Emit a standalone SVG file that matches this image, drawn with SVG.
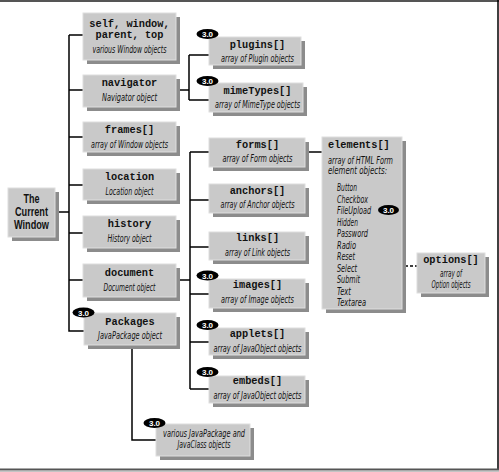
<svg xmlns="http://www.w3.org/2000/svg" width="499" height="472" viewBox="0 0 499 472">
<defs>
<style>
.sh{fill:#8c8c8c}
.bx{fill:#c9c9c9;stroke:#dedede;stroke-width:1}
.m{font-family:"Liberation Mono","Courier New",monospace;font-weight:bold;font-size:10.3px;fill:#111;text-anchor:middle}
.d{font-family:"Liberation Sans Narrow","DejaVu Sans Condensed","Liberation Sans",sans-serif;font-style:italic;font-size:10px;fill:#111;text-anchor:middle}
.dl{font-family:"Liberation Sans Narrow","DejaVu Sans Condensed","Liberation Sans",sans-serif;font-style:italic;font-size:10px;fill:#111}
.b{font-family:"Liberation Sans Narrow","Liberation Sans",sans-serif;font-weight:bold;font-size:12px;fill:#111;text-anchor:middle}
.bt{font-family:"Liberation Sans",sans-serif;font-weight:bold;font-size:8px;fill:#fff;text-anchor:middle}
.c{fill:none;stroke:#000;stroke-width:1.5}
.dash{fill:none;stroke:#000;stroke-width:1.3;stroke-dasharray:3,2}
</style>
</defs>
<rect width="499" height="472" fill="#fff"/>
<line x1="0" y1="1" x2="499" y2="1" stroke="#555" stroke-width="2"/>
<line x1="498" y1="0" x2="498" y2="470" stroke="#000" stroke-width="1.5"/>
<line x1="0" y1="469.5" x2="499" y2="469.5" stroke="#555" stroke-width="2"/>
<line x1="0" y1="471.2" x2="499" y2="471.2" stroke="#aaa" stroke-width="1"/>

<g id="connectors">
<path class="c" d="M55,212 H69 M69,35 V331 H84 M69,35 H83 M69,90 H83 M69,137 H83 M69,185 H83 M69,233 H83 M69,280 H83"/>
<path class="c" d="M176,90 H189 M189,55 V100 M189,55 H209 M189,100 H209"/>
<path class="c" d="M176,280 H190 M190,152 V389 M190,152 H209 M190,200 H209 M190,247 H209 M190,294 H209 M190,342 H209 M190,389 H209"/>
<path class="c" d="M305,152 H322"/>
<path class="c" d="M132,345 V440 H156"/>
<path class="dash" d="M365,266 H417"/>
</g>

<g id="current-window">
<rect class="sh" x="12" y="192" width="47" height="49"/>
<rect class="bx" x="8" y="188" width="47" height="49"/>
<text class="b" x="31.5" y="203" textLength="16" lengthAdjust="spacingAndGlyphs">The</text>
<text class="b" x="31.5" y="216" textLength="33" lengthAdjust="spacingAndGlyphs">Current</text>
<text class="b" x="31.5" y="229" textLength="35" lengthAdjust="spacingAndGlyphs">Window</text>
</g>

<g id="self">
<rect class="sh" x="87" y="17" width="93" height="47"/>
<rect class="bx" x="83" y="13" width="93" height="47"/>
<text class="m" x="129.5" y="27">self, window,</text>
<text class="m" x="129.5" y="38">parent, top</text>
<text class="d" x="129.5" y="53" textLength="74" lengthAdjust="spacingAndGlyphs">various Window objects</text>
</g>

<g id="navigator">
<rect class="sh" x="87" y="79" width="93" height="32"/>
<rect class="bx" x="83" y="75" width="93" height="32"/>
<text class="m" x="129.5" y="86">navigator</text>
<text class="d" x="129.5" y="101" textLength="55" lengthAdjust="spacingAndGlyphs">Navigator object</text>
</g>

<g id="frames">
<rect class="sh" x="87" y="126" width="93" height="30"/>
<rect class="bx" x="83" y="122" width="93" height="30"/>
<text class="m" x="129.5" y="133">frames[]</text>
<text class="d" x="129.5" y="148" textLength="77" lengthAdjust="spacingAndGlyphs">array of Window objects</text>
</g>

<g id="location">
<rect class="sh" x="87" y="173" width="93" height="31"/>
<rect class="bx" x="83" y="169" width="93" height="31"/>
<text class="m" x="129.5" y="180">location</text>
<text class="d" x="129.5" y="195" textLength="48" lengthAdjust="spacingAndGlyphs">Location object</text>
</g>

<g id="history">
<rect class="sh" x="87" y="220" width="93" height="32"/>
<rect class="bx" x="83" y="216" width="93" height="32"/>
<text class="m" x="129.5" y="227">history</text>
<text class="d" x="129.5" y="242" textLength="44" lengthAdjust="spacingAndGlyphs">History object</text>
</g>

<g id="document">
<rect class="sh" x="87" y="268" width="93" height="33"/>
<rect class="bx" x="83" y="264" width="93" height="33"/>
<text class="m" x="129.5" y="276">document</text>
<text class="d" x="129.5" y="291" textLength="52" lengthAdjust="spacingAndGlyphs">Document object</text>
</g>

<g id="packages">
<rect class="sh" x="88" y="317" width="92" height="32"/>
<rect class="bx" x="84" y="313" width="92" height="32"/>
<text class="m" x="130" y="325">Packages</text>
<text class="d" x="130" y="339" textLength="64" lengthAdjust="spacingAndGlyphs">JavaPackage object</text>
<ellipse cx="83.5" cy="312.5" rx="11" ry="5" fill="#000"/>
<text class="bt" x="83.5" y="315.5">3.0</text>
</g>

<g id="java-classes">
<rect class="sh" x="160" y="428" width="94" height="32"/>
<rect class="bx" x="156" y="424" width="94" height="32"/>
<text class="d" x="204" y="437" textLength="82" lengthAdjust="spacingAndGlyphs">various JavaPackage and</text>
<text class="d" x="204" y="448" textLength="53" lengthAdjust="spacingAndGlyphs">JavaClass objects</text>
<ellipse cx="154.5" cy="423" rx="11" ry="5" fill="#000"/>
<text class="bt" x="154.5" y="426">3.0</text>
</g>

<g id="plugins">
<rect class="sh" x="213" y="41" width="92" height="28"/>
<rect class="bx" x="209" y="37" width="92" height="28"/>
<text class="m" x="257.5" y="48">plugins[]</text>
<text class="d" x="257.5" y="62" textLength="73" lengthAdjust="spacingAndGlyphs">array of Plugin objects</text>
<ellipse cx="207.5" cy="34" rx="11" ry="5" fill="#000"/>
<text class="bt" x="207.5" y="37">3.0</text>
</g>

<g id="mimetypes">
<rect class="sh" x="213" y="87" width="94" height="29"/>
<rect class="bx" x="209" y="83" width="94" height="29"/>
<text class="m" x="257.5" y="94">mimeTypes[]</text>
<text class="d" x="257.5" y="108" textLength="85" lengthAdjust="spacingAndGlyphs">array of MimeType objects</text>
<ellipse cx="207.5" cy="81" rx="11" ry="5" fill="#000"/>
<text class="bt" x="207.5" y="84">3.0</text>
</g>

<g id="forms">
<rect class="sh" x="213" y="142" width="96" height="29"/>
<rect class="bx" x="209" y="138" width="96" height="29"/>
<text class="m" x="257.5" y="148">forms[]</text>
<text class="d" x="257.5" y="162" textLength="70" lengthAdjust="spacingAndGlyphs">array of Form objects</text>
</g>

<g id="anchors">
<rect class="sh" x="213" y="188" width="96" height="29"/>
<rect class="bx" x="209" y="184" width="96" height="29"/>
<text class="m" x="257.5" y="194">anchors[]</text>
<text class="d" x="257.5" y="208" textLength="74" lengthAdjust="spacingAndGlyphs">array of Anchor objects</text>
</g>

<g id="links">
<rect class="sh" x="213" y="236" width="96" height="28"/>
<rect class="bx" x="209" y="232" width="96" height="28"/>
<text class="m" x="257.5" y="241">links[]</text>
<text class="d" x="257.5" y="256" textLength="65" lengthAdjust="spacingAndGlyphs">array of Link objects</text>
</g>

<g id="images">
<rect class="sh" x="213" y="283" width="96" height="29"/>
<rect class="bx" x="209" y="279" width="96" height="29"/>
<text class="m" x="257.5" y="288">images[]</text>
<text class="d" x="257.5" y="303" textLength="73" lengthAdjust="spacingAndGlyphs">array of Image objects</text>
<ellipse cx="207.5" cy="275.5" rx="11" ry="5" fill="#000"/>
<text class="bt" x="207.5" y="278.5">3.0</text>
</g>

<g id="applets">
<rect class="sh" x="213" y="332" width="96" height="27"/>
<rect class="bx" x="209" y="328" width="96" height="27"/>
<text class="m" x="257.5" y="337">applets[]</text>
<text class="d" x="257.5" y="352" textLength="88" lengthAdjust="spacingAndGlyphs">array of JavaObject objects</text>
<ellipse cx="207.5" cy="325" rx="11" ry="5" fill="#000"/>
<text class="bt" x="207.5" y="328">3.0</text>
</g>

<g id="embeds">
<rect class="sh" x="213" y="380" width="96" height="27"/>
<rect class="bx" x="209" y="376" width="96" height="27"/>
<text class="m" x="257.5" y="384">embeds[]</text>
<text class="d" x="257.5" y="399" textLength="88" lengthAdjust="spacingAndGlyphs">array of JavaObject objects</text>
<ellipse cx="207.5" cy="372" rx="11" ry="5" fill="#000"/>
<text class="bt" x="207.5" y="375">3.0</text>
</g>

<g id="elements">
<rect class="sh" x="326" y="141" width="80" height="172"/>
<rect class="bx" x="322" y="137" width="80" height="172"/>
<text class="m" x="328" y="148" style="text-anchor:start">elements[]</text>
<text class="dl" x="328" y="164" textLength="65" lengthAdjust="spacingAndGlyphs">array of HTML Form</text>
<text class="dl" x="328" y="174" textLength="59" lengthAdjust="spacingAndGlyphs">element objects:</text>
<text class="dl" x="337" y="191" textLength="20" lengthAdjust="spacingAndGlyphs">Button</text>
<text class="dl" x="337" y="202.5" textLength="31" lengthAdjust="spacingAndGlyphs">Checkbox</text>
<text class="dl" x="337" y="214" textLength="34" lengthAdjust="spacingAndGlyphs">FileUpload</text>
<text class="dl" x="337" y="225.5" textLength="21" lengthAdjust="spacingAndGlyphs">Hidden</text>
<text class="dl" x="337" y="237" textLength="31" lengthAdjust="spacingAndGlyphs">Password</text>
<text class="dl" x="337" y="248.5" textLength="19" lengthAdjust="spacingAndGlyphs">Radio</text>
<text class="dl" x="337" y="260" textLength="18" lengthAdjust="spacingAndGlyphs">Reset</text>
<text class="dl" x="337" y="271.5" textLength="20" lengthAdjust="spacingAndGlyphs">Select</text>
<text class="dl" x="337" y="283" textLength="23" lengthAdjust="spacingAndGlyphs">Submit</text>
<text class="dl" x="337" y="294.5" textLength="14" lengthAdjust="spacingAndGlyphs">Text</text>
<text class="dl" x="337" y="306" textLength="29" lengthAdjust="spacingAndGlyphs">Textarea</text>
<ellipse cx="388.5" cy="210" rx="10.5" ry="5" fill="#000"/>
<text class="bt" x="388.5" y="213">3.0</text>
</g>

<g id="options">
<rect class="sh" x="421" y="257" width="68" height="40"/>
<rect class="bx" x="417" y="253" width="68" height="40"/>
<text class="m" x="451" y="263">options[]</text>
<text class="d" x="451" y="277" textLength="22" lengthAdjust="spacingAndGlyphs">array of</text>
<text class="d" x="451" y="288" textLength="39" lengthAdjust="spacingAndGlyphs">Option objects</text>
</g>
</svg>
